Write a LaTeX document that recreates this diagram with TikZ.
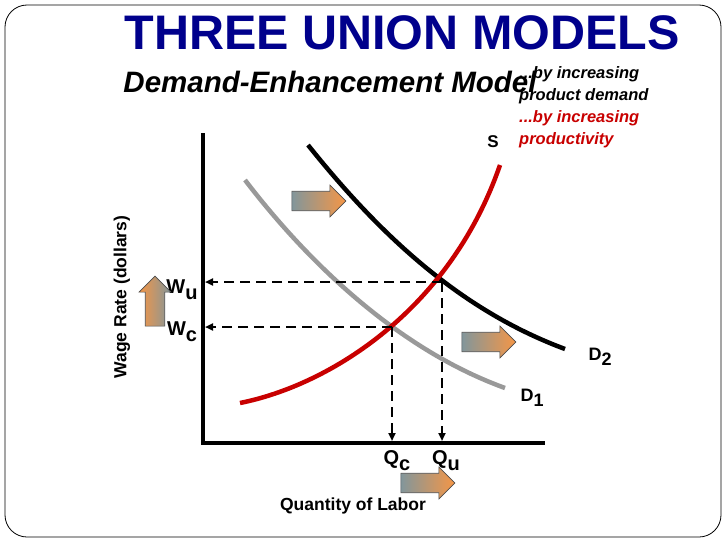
\documentclass[tikz,border=0pt]{standalone}
\usepackage{fontspec}
\setmainfont{Liberation Sans}
\usetikzlibrary{shapes.arrows,arrows.meta}
\definecolor{tblue}{RGB}{0,0,140}
\definecolor{tred}{RGB}{200,0,0}
\definecolor{agray}{RGB}{130,150,155}
\definecolor{aorange}{RGB}{245,150,70}
\begin{document}
\begin{tikzpicture}[x=1pt,y=-1pt,
  blk/.style={single arrow,draw=black!70,line width=0.6pt,minimum height=54pt,minimum width=32pt,single arrow head extend=6pt,inner xsep=0pt,inner ysep=9pt,left color=agray,right color=aorange},
  dsh/.style={dash pattern=on 10pt off 6pt,line width=2.6pt,-{Triangle[length=8pt,width=7pt]}},
  lab/.style={font=\fontsize{20}{20}\selectfont\bfseries}]
\useasboundingbox (0,0) rectangle (728,546);
\draw[line width=0.8pt,rounded corners=22pt] (5,5) rectangle (721,537);
\node (title) at (402,33) {\fontsize{48.5}{48}\selectfont\bfseries\color{tblue}THREE UNION MODELS};
\node (sub) at (330,82) {\fontsize{29.5}{29}\selectfont\bfseries\itshape Demand-Enhancement Model};
\node[anchor=west,align=left,inner sep=0pt,font=\fontsize{16.5}{22}\selectfont\bfseries\itshape] (side) at (519,107) {...by increasing\\ product demand\\ \color{tred}...by increasing\\ \color{tred}productivity};
\node[font=\fontsize{17}{17}\selectfont\bfseries] (S) at (493,142) {S};
% axes
\coordinate (o) at (203,443);
\coordinate (ytop) at (203,133);
\coordinate (xend) at (545,443);
\draw[line width=4pt] (ytop) -- (o) -- (xend);
% curves
\draw[line width=4.5pt,black] (308,145) .. controls (380,235) and (460,310) .. (565,349);
\draw[line width=4.5pt,gray!80] (245,180) .. controls (310,265) and (400,350) .. (505,388);
\draw[line width=4.5pt,tred] (240,403) .. controls (330,385) and (450,310) .. (500,165);
% intersections
\coordinate (eu) at (442,282);
\coordinate (ec) at (392,327);
\coordinate (wu) at (205,282);
\coordinate (wc) at (205,327);
\coordinate (qu) at (442,441);
\coordinate (qc) at (392,441);
\draw[dsh] (eu) -- (wu);
\draw[dsh] (ec) -- (wc);
\draw[dsh] (eu) -- (qu);
\draw[dsh] (ec) -- (qc);
% labels
\node[lab] (Wu) at (182,290) {W\raisebox{-6pt}{u}};
\node[lab] (Wc) at (182,332) {W\raisebox{-6pt}{c}};
\node[lab] (Qc) at (397,461) {Q\raisebox{-6pt}{c}};
\node[lab] (Qu) at (446,461) {Q\raisebox{-6pt}{u}};
\node[font=\fontsize{18}{18}\selectfont\bfseries] (D2) at (600,357) {D\raisebox{-5pt}{2}};
\node[font=\fontsize{18}{18}\selectfont\bfseries] (D1) at (532,398) {D\raisebox{-5pt}{1}};
\node[rotate=90,font=\fontsize{17.5}{17}\selectfont\bfseries] (ylab) at (122,297) {Wage Rate (dollars)};
\node[font=\fontsize{17.5}{17}\selectfont\bfseries] (xlab) at (353,506) {Quantity of Labor};
% block arrows
\node[blk] (a1) at (314,201) {};
\node[blk] (a2) at (484,342) {};
\node[blk] (a3) at (423,483) {};
\node[blk,rotate=90,minimum height=50pt,left color=aorange,right color=agray] (a4) at (155,306) {};
\end{tikzpicture}
\end{document}
